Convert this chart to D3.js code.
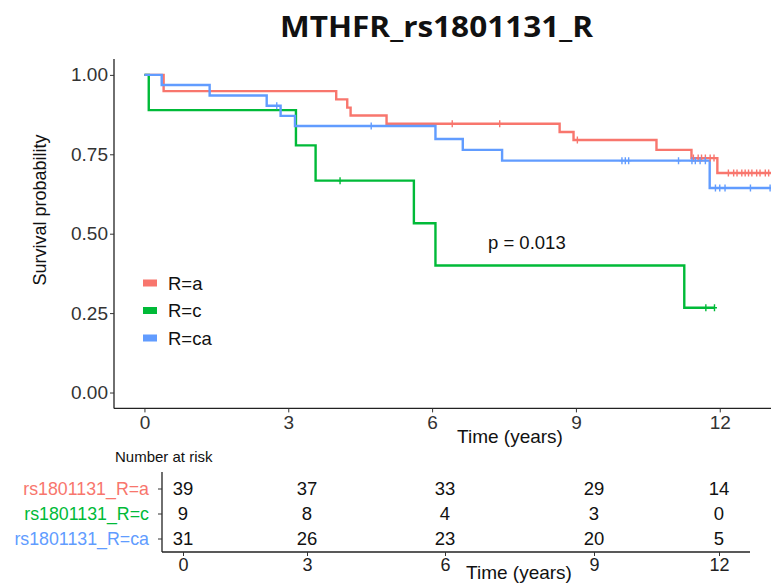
<!DOCTYPE html>
<html>
<head>
<meta charset="utf-8">
<script src="https://cdn.jsdelivr.net/npm/d3@7"></script>
<style>
  html, body { margin: 0; padding: 0; background: #fff; }
  svg { display: block; font-family: "Liberation Sans", Arial, sans-serif; }
</style>
</head>
<body>
<svg id="chart" width="771" height="583"></svg>
<script>
// ---------------- data ----------------
const chartTitle = "MTHFR_rs1801131_R";
const groups = ["R=a", "R=c", "R=ca"];
const groupColors = ["#F8766D", "#00BA38", "#619CFF"];

// Kaplan-Meier steps: [time, survival]
const stepsA = [[0,1],[0.40,0.949],[4.00,0.923],[4.23,0.897],[4.30,0.872],[5.05,0.846],[8.66,0.820],[8.95,0.795],[10.68,0.764],[11.41,0.738],[11.95,0.691],[13.3,0.691]];
const stepsC = [[0,1],[0.09,0.889],[3.16,0.778],[3.57,0.667],[5.62,0.533],[6.07,0.400],[11.26,0.267],[11.90,0.267]];
const stepsCA = [[0,1],[0.36,0.968],[1.36,0.935],[2.55,0.903],[2.84,0.871],[3.14,0.839],[6.07,0.798],[6.64,0.764],[7.46,0.730],[11.79,0.644],[13.3,0.644]];

// censor marks: [time, survival]
const censorA = [[6.42,0.846],[7.41,0.846],[9.03,0.795],[11.45,0.738],[11.55,0.738],[11.62,0.738],[11.70,0.738],[11.80,0.738],[11.88,0.738],
  [12.18,0.691],[12.29,0.691],[12.36,0.691],[12.46,0.691],[12.53,0.691],[12.60,0.691],[12.67,0.691],[12.77,0.691],[12.84,0.691],[12.95,0.691],[13.02,0.691]];
const censorC = [[4.08,0.667],[11.71,0.267],[11.89,0.267]];
const censorCA = [[2.76,0.903],[4.73,0.839],[9.96,0.730],[10.03,0.730],[10.10,0.730],[11.14,0.730],[11.42,0.730],[11.49,0.730],[11.59,0.730],[11.70,0.730],
  [11.91,0.644],[12.00,0.644],[12.11,0.644],[12.64,0.644],[13.05,0.644]];

const xTicks = [0, 3, 6, 9, 12];
const yTicks = [0, 0.25, 0.5, 0.75, 1];
const pValueText = "p = 0.013";

// risk table
const riskLabels = ["rs1801131_R=a", "rs1801131_R=c", "rs1801131_R=ca"];
const riskA = [39, 37, 33, 29, 14];
const riskC = [9, 8, 4, 3, 0];
const riskCA = [31, 26, 23, 20, 5];

// ---------------- drawing ----------------
const svg = d3.select("#chart");

// main plot scales
const x = d3.scaleLinear().domain([-0.635, 13.34]).range([114, 784]);
const y = d3.scaleLinear().domain([-0.05, 1.05]).range([408.4, 59]);

// title
svg.append("text")
  .attr("x", 280).attr("y", 37)
  .attr("textLength", 313).attr("lengthAdjust", "spacingAndGlyphs")
  .style("font-family", "'Open Sans', 'Liberation Sans', sans-serif")
  .style("font-weight", "700").style("font-size", "28px").attr("fill", "#111")
  .text(chartTitle);

const plot = svg.append("g");
plot.append("clipPath").attr("id", "clip")
  .append("rect").attr("x", 114).attr("y", 50).attr("width", 660).attr("height", 360);

// curves
const line = d3.line().x(d => x(d[0])).y(d => y(d[1])).curve(d3.curveStepAfter);
const allSteps = [stepsA, stepsC, stepsCA];
const allCensor = [censorA, censorC, censorCA];
const curves = plot.append("g").attr("clip-path", "url(#clip)");
allSteps.forEach((s, i) => {
  curves.append("path").datum(s)
    .attr("d", line).attr("fill", "none")
    .attr("stroke", groupColors[i]).attr("stroke-width", 2.4);
});
allCensor.forEach((c, i) => {
  curves.append("g").selectAll("path").data(c).join("path")
    .attr("d", d => {
      const cx = x(d[0]), cy = y(d[1]);
      return `M${cx},${cy-3.5}V${cy+3.5}M${cx-2.5},${cy}H${cx+2.5}`;
    })
    .attr("stroke", groupColors[i]).attr("stroke-width", 1.4).attr("fill", "none");
});

// axes
const yAxis = d3.axisLeft(y).tickValues(yTicks).tickFormat(d3.format(".2f")).tickSize(4).tickPadding(2);
const gy = svg.append("g").attr("transform", "translate(114,0)").call(yAxis);
gy.select(".domain").attr("stroke", "#222").attr("stroke-width", 1.3).attr("d", "M0,59V408.4");
gy.selectAll(".tick line").attr("stroke", "#333");
gy.selectAll(".tick text").style("font-size", "19px").attr("fill", "#333")
  .style("font-family", "'Liberation Sans', Arial, sans-serif");

const xAxis = d3.axisBottom(x).tickValues(xTicks).tickSize(4).tickPadding(3);
const gx = svg.append("g").attr("transform", "translate(0,408.4)").call(xAxis);
gx.select(".domain").attr("stroke", "#222").attr("stroke-width", 1.3).attr("d", "M114,0H771");
gx.selectAll(".tick line").attr("stroke", "#333");
gx.selectAll(".tick text").style("font-size", "19px").attr("fill", "#333")
  .style("font-family", "'Liberation Sans', Arial, sans-serif");

// axis titles
svg.append("text").attr("x", 510).attr("y", 443).attr("text-anchor", "middle")
  .style("font-size", "19px").attr("fill", "#111").text("Time (years)");
svg.append("text").attr("transform", "translate(46,210) rotate(-90)").attr("text-anchor", "middle")
  .style("font-size", "18px").attr("fill", "#111").text("Survival probability");

// legend
const legendY = d3.scalePoint().domain(groups).range([283, 338]);
const lg = svg.append("g");
groups.forEach((g, i) => {
  lg.append("rect").attr("x", 143).attr("y", legendY(g) - 3.5).attr("width", 14).attr("height", 7)
    .attr("fill", groupColors[i]);
  lg.append("text").attr("x", 168).attr("y", legendY(g) + 6.5)
    .style("font-size", "18.5px").attr("fill", "#111").text(g);
});

// p-value
svg.append("text").attr("x", 488).attr("y", 249).style("font-size", "18.5px").attr("fill", "#111").text(pValueText);

// ---------------- risk table ----------------
svg.append("text").attr("x", 115).attr("y", 462).style("font-size", "15px").attr("fill", "#111").text("Number at risk");

const tx = d3.scaleLinear().domain(xTicks).range([183, 307, 445, 594, 719]);
const ty = d3.scalePoint().domain(riskLabels).range([488.5, 538.5]);
const riskRows = [riskA, riskC, riskCA];

const gty = svg.append("g").attr("transform", "translate(162,0)")
  .call(d3.axisLeft(ty).tickSize(4).tickPadding(9));
gty.select(".domain").attr("stroke", "#222").attr("stroke-width", 1.3).attr("d", "M0,472V552");
gty.selectAll(".tick line").attr("stroke", "#333");
gty.selectAll(".tick text").style("font-size", "17.8px")
  .style("font-family", "'Liberation Sans', Arial, sans-serif")
  .attr("fill", (d, i) => groupColors[i]);

const gtx = svg.append("g").attr("transform", "translate(0,552)")
  .call(d3.axisBottom(tx).tickValues(xTicks).tickSize(4).tickPadding(2));
gtx.select(".domain").attr("stroke", "#222").attr("stroke-width", 1.3).attr("d", "M162,0H750");
gtx.selectAll(".tick line").attr("stroke", "#333");
gtx.selectAll(".tick text").style("font-size", "18px").attr("fill", "#222")
  .style("font-family", "'Liberation Sans', Arial, sans-serif");

riskRows.forEach((row, r) => {
  svg.append("g").selectAll("text").data(row).join("text")
    .attr("x", (d, i) => tx(xTicks[i])).attr("y", ty(riskLabels[r]) + 6.5)
    .attr("text-anchor", "middle").style("font-size", "18.5px").attr("fill", "#111")
    .text(d => d);
});

svg.append("text").attr("x", 519).attr("y", 579).attr("text-anchor", "middle")
  .style("font-size", "19px").attr("fill", "#111").text("Time (years)");
</script>
</body>
</html>
